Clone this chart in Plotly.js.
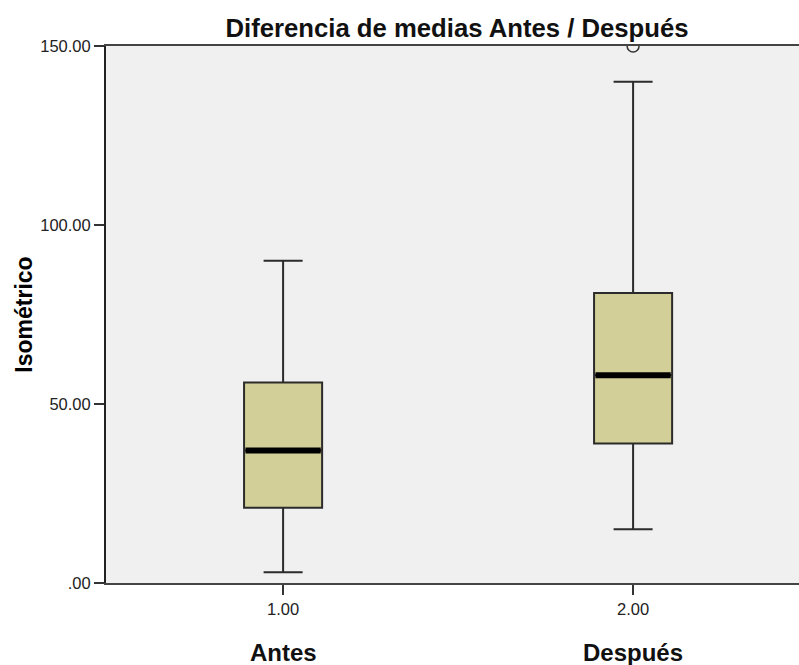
<!DOCTYPE html>
<html>
<head>
<meta charset="utf-8">
<script src="https://cdn.plot.ly/plotly-3.0.1.min.js"></script>
<style>html,body{margin:0;padding:0;background:#fff;}#chart{width:799px;height:665px;}</style>
</head>
<body>
<div id="chart"></div>
<script>
// Data
const positions = [1, 2];
const groupNames = ["Antes", "Después"];
const q1 = [21, 39];
const median = [37, 58];
const q3 = [56, 81];
const lowerWhisker = [3, 15];
const upperWhisker = [90, 140];
const outlierX = [2];
const outlierY = [150];
const xTickVals = [1, 2];
const xTickText = ["1.00", "2.00"];
const yTickVals = [0, 50, 100, 150];
const yTickText = [".00", "50.00", "100.00", "150.00"];

const BOX_W = 0.223;
const FONT = "Liberation Sans, Arial, sans-serif";

const traces = [];
traces.push({
  type: "box",
  x: positions,
  q1: q1, median: median, q3: q3,
  lowerfence: lowerWhisker, upperfence: upperWhisker,
  width: BOX_W,
  whiskerwidth: 0.5,
  fillcolor: "#d3cf98",
  line: {color: "#2b2b2b", width: 2},
  boxpoints: false,
  hoverinfo: "skip",
  showlegend: false
});
// thick median lines
positions.forEach((p, i) => {
  traces.push({
    type: "scatter", mode: "lines",
    x: [p - BOX_W / 2 + 0.004, p + BOX_W / 2 - 0.004],
    y: [median[i], median[i]],
    line: {color: "#000", width: 6},
    hoverinfo: "skip", showlegend: false
  });
});
traces.push({
  type: "scatter", mode: "markers",
  x: outlierX, y: outlierY,
  marker: {symbol: "circle-open", size: 12, color: "#333", line: {width: 1.5, color: "#333"}},
  cliponaxis: true,
  hoverinfo: "skip", showlegend: false
});

const layout = {
  width: 799, height: 665,
  margin: {l: 106, r: 0, t: 46, b: 82},
  paper_bgcolor: "#ffffff",
  plot_bgcolor: "#f0f0f0",
  showlegend: false,
  title: {
    text: "<b>Diferencia de medias Antes / Después</b>",
    font: {family: FONT, size: 25.7, color: "#111"},
    x: 0.5065, xanchor: "center", xref: "paper",
    y: 1, yref: "paper", yanchor: "bottom", pad: {b: 9}
  },
  xaxis: {
    range: [0.494, 2.474],
    tickvals: xTickVals, ticktext: xTickText,
    ticks: "outside", ticklen: 10, tickwidth: 1.5, tickcolor: "#333",
    tickfont: {family: FONT, size: 16.5, color: "#222"},
    showline: true, linecolor: "#444", linewidth: 2, mirror: true,
    showgrid: false, zeroline: false, fixedrange: true
  },
  yaxis: {
    range: [0, 150],
    tickvals: yTickVals, ticktext: yTickText,
    ticks: "outside", ticklen: 10, tickwidth: 1.5, tickcolor: "#333",
    tickfont: {family: FONT, size: 16.5, color: "#222"},
    showline: true, linecolor: "#222", linewidth: 2,
    showgrid: false, zeroline: false, fixedrange: true,
    title: {text: "<b>Isométrico</b>", font: {family: FONT, size: 23, color: "#000"}, standoff: 1}
  },
  annotations: positions.map((p, i) => ({
    x: p, xref: "x", y: -0.13, yref: "paper",
    text: "<b>" + groupNames[i] + "</b>",
    showarrow: false, xanchor: "center", yanchor: "middle",
    font: {family: FONT, size: 24, color: "#111"}
  }))
};

Plotly.newPlot("chart", traces, layout, {displayModeBar: false, staticPlot: true});
</script>
</body>
</html>
